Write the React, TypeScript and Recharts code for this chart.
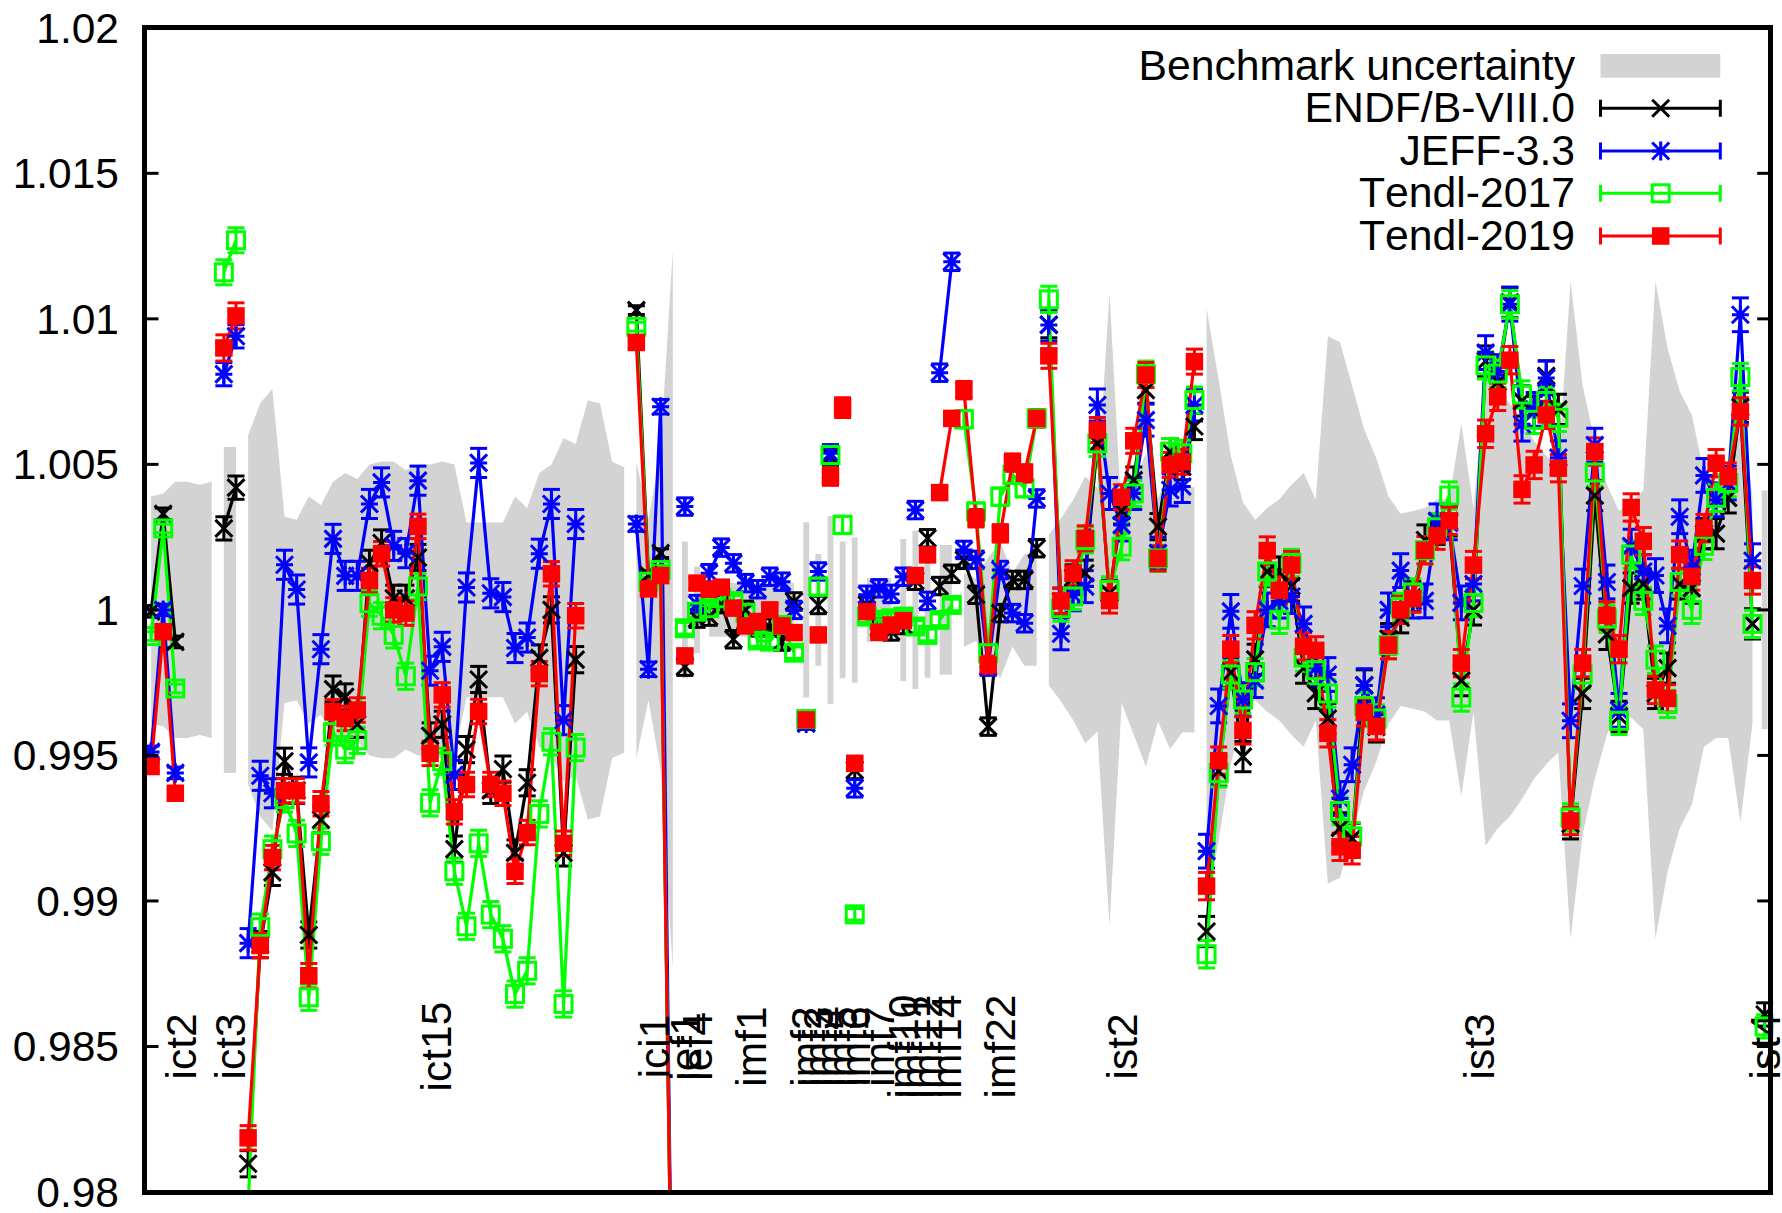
import React from 'react';
import { ComposedChart, Line, Area, ErrorBar, XAxis, YAxis, Legend, ReferenceDot } from 'recharts';

const _ = null;
const SERIES_NAMES = ['ENDF/B-VIII.0', 'JEFF-3.3', 'Tendl-2017', 'Tendl-2019'];
const COLORS = ['#000000', '#0000ff', '#00ff00', '#ff0000'];
const Y_TICKS = [0.98, 0.985, 0.99, 0.995, 1, 1.005, 1.01, 1.015, 1.02];

const ENDF = [
  0.99995, 1.0033, 0.9989, _, _, _, 1.0028, 1.0042,
  0.98097, 0.9885, 0.99098, 0.9948, 0.9938, 0.98883, 0.99279, 0.99728, 0.99701, 0.99607, 1.0016, 1.0023, 1.0004, 1.0004, 1.0018, 0.99567, 0.99607, 0.99178, 0.9952, 0.99761, 0.9938, 0.99453, 0.99165, 0.99406, 0.99835, 1.0, 0.99165, 0.99829, _, _, _, _,
  1.0103, 1.0012, 1.00195, 0.973,
  0.99805, 0.9997,
  0.99977, 1.0002, 0.99899, 1.0, 0.9994, 0.9994, 0.99891, 1.00029,
  0.9961, 1.00017, 1.00527, _, 0.9945,
  1.00017, 0.9994, 0.99926, 0.99948, 1.001, 1.00246, 1.00082, 1.00124,
  1.00172, 1.00052, 0.99599, 0.99989, 1.00103, 1.00103, 1.00212,
  1.0098, 1.0003, 1.0011, 1.00126, 1.00572, 1.00057, 1.0034, 1.00446, 1.00755, 1.00286, 1.00544, 1.00492, 1.0063,
  0.98895, 0.99446, 0.99785, 0.99496, 0.9983, 1.00132, 1.0013, 1.00082, 0.998, 0.99713, 0.99627, 0.99251, 0.99215, 0.99742, 0.99598, 0.99901, 0.99973, 1.00046, 1.0024, 1.00277, 1.00306, 0.99757, 1.0, 1.00855, 1.00783, 1.01057, 1.00718, 1.00682, 1.00804, 1.00689, 0.99265, 0.99713, 1.00393, 0.99916, 0.99634, 1.00075, 1.00089, 0.99713, 0.998, 1.00089, 1.00075, 1.00262, 1.00262, 1.00385, 1.00696, 0.99952,
  0.9861,
];
const JEFF = [
  0.99512, 1.0, 0.9944, _, _, _, 1.0081, 1.0094,
  0.98855, 0.9943, 0.9937, 1.00155, 1.0007, 0.99476, 0.99865, 1.00244, 1.00117, 1.00117, 1.00364, 1.00438, 1.0022, 1.00195, 1.00444, 0.99791, 0.99873, 0.99433, 1.00077, 1.00505, 1.00057, 1.00044, 0.99869, 0.99905, 1.00193, 1.00364, 0.99621, 1.00295, _, _, _, _,
  1.00295, 0.99796, 1.00698, 0.9725,
  1.00355, 1.0002,
  1.00126, 1.00214, 1.0016, 1.00092, 1.00071, 1.00114, 1.00097, 1.0,
  0.9961, 1.00132, 1.00538, _, 0.99387,
  1.00052, 1.00074, 1.00055, 1.00114, 1.00343, 1.00031, 1.00815, 1.01196,
  1.00206, 1.00172, 0.99805, 1.00137, 0.99989, 0.99954, 1.00383,
  1.00979, 0.99918, 1.00052, 1.0008, 1.00704, 1.004, 1.00292, 1.004, 1.00652, 1.00195, 1.00412, 1.00424, 1.00704,
  0.99171, 0.9967, 0.99995, 0.99692, 0.99757, 1.0, 1.0003, 1.00046, 0.99952, 0.998, 0.99778, 0.99352, 0.99468, 0.9974, 0.9964, 1.0, 1.00135, 1.0003, 1.00031, 1.00306, 1.00299, 1.00024, 1.00089, 1.00884, 1.00819, 1.0105, 1.00638, 1.00689, 1.00797, 1.00523, 0.99619, 1.00082, 1.00566, 1.00096, 0.99655, 1.00219, 1.00132, 1.00118, 0.99945, 1.0032, 1.00147, 1.00462, 1.00378, 1.00436, 1.01014, 1.00169,
  _,
];
const TENDL17 = [
  0.9991, 1.0028, 0.9973, _, _, _, 1.0116, 1.0127,
  0.9795, 0.9891, 0.99178, 0.9935, 0.99232, 0.98669, 0.99205, 0.9958, 0.9952, 0.99552, 1.00023, 0.9998, 0.99914, 0.99772, 1.0008, 0.99337, 0.9948, 0.99102, 0.98913, 0.99198, 0.98953, 0.9887, 0.9868, 0.9876, 0.99299, 0.99547, 0.98646, 0.99527, _, _, _, _,
  1.00973, 1.00097, 1.00137, 0.973,
  0.99937, 0.99994,
  1.00006, 1.0004, 1.0003, 0.9999, 0.99895, 0.99891, 0.99948, 0.99853,
  0.99625, 1.0008, 1.00532, 1.00292, 0.98954,
  0.99977, 0.99966, 0.99971, 0.99977, 0.99943, 0.99914, 0.99966, 1.00017,
  1.00655, 1.00338, 0.99851, 1.00389, 1.00464, 1.00418, 1.00658,
  1.01067, 1.00006, 1.00046, 1.0024, 1.00572, 1.00069, 1.00217, 1.004, 1.0081, 1.00177, 1.00544, 1.00538, 1.00721,
  0.98817, 0.99439, 0.99778, 0.99692, 0.99786, 1.00132, 0.99966, 1.00161, 0.99836, 0.99793, 0.99713, 0.99309, 0.99222, 0.9967, 0.99627, 0.99879, 1.0001, 1.0006, 1.00205, 1.00284, 1.00393, 0.99699, 1.00024, 1.0084, 1.00812, 1.0105, 1.0074, 1.00653, 1.00718, 1.0066, 0.99287, 0.99778, 1.00472, 0.9997, 0.99619, 1.0019, 1.00031, 0.99829, 0.99677, 1.00096, 1.0, 1.0022, 1.00385, 1.00436, 1.008, 0.99952,
  0.98569,
];
const TENDL19 = [
  0.99462, 0.99925, 0.9937, _, _, _, 1.009, 1.0101,
  0.98186, 0.98847, 0.99149, 0.99379, 0.99379, 0.98743, 0.99334, 0.9965, 0.99627, 0.99656, 1.00101, 1.00193, 1.0, 0.99989, 1.00287, 0.99507, 0.99708, 0.99306, 0.994, 0.99651, 0.994, 0.9937, 0.99102, 0.99235, 0.99781, 1.00124, 0.99198, 0.9998, _, _, _, _,
  1.00919, 1.00072, 1.00118, 0.973,
  0.99842, 1.00092,
  1.00071, 1.00078, 1.00006, 0.99945, 0.9996, 1.0, 0.99945, 0.99922,
  0.99622, 0.99914, 1.00458, 1.00695, 0.99473,
  0.99994, 0.99923, 0.99948, 0.99963, 1.00118, 1.00189, 1.00403, 1.00658,
  1.00755, 1.00315, 0.99811, 1.00263, 1.00506, 1.00469, 1.00658,
  1.00873, 1.00031, 1.00126, 1.00246, 1.00618, 1.00032, 1.00387, 1.00581, 1.00807, 1.00177, 1.00498, 1.00509, 1.00853,
  0.99051, 0.99482, 0.99865, 0.99586, 0.99947, 1.00204, 1.00067, 1.00154, 0.99875, 0.99861, 0.99576, 0.99186, 0.99174, 0.99648, 0.996, 0.99879, 1.0, 1.00039, 1.00205, 1.00255, 1.00306, 0.99817, 1.00154, 1.00605, 1.00732, 1.00858, 1.00414, 1.00498, 1.0067, 1.00487, 0.99275, 0.99817, 1.00544, 0.99981, 0.99865, 1.00352, 1.00236, 0.99725, 0.99696, 1.0019, 1.00115, 1.00281, 1.00504, 1.00458, 1.00682, 1.00101,
  _,
];
const BENCH_UNC = [
  0.0039, 0.004, 0.0044, 0.0044, 0.0043, 0.0044, 0.0056, 0.0056,
  0.006, 0.0071, 0.0076, 0.0032, 0.0031, 0.0039, 0.0036, 0.0044, 0.0047, 0.0045, 0.005, 0.0051, 0.0051, 0.0048, 0.005, 0.005, 0.0051, 0.005, 0.003, 0.003, 0.003, 0.003, 0.0039, 0.0035, 0.0047, 0.005, 0.0059, 0.0057, 0.0072, 0.0071, 0.0051, 0.0049,
  0.0051, 0.0031, 0.0055, 0.01236,
  0.00235, 0.00149,
  0.00092, 0.00092, 0.00092, 0.00092, 0.00092, 0.00092, 0.00092, 0.00092,
  0.00301, 0.00192, 0.00323, 0.00235, 0.0025,
  0.0011, 0.0011, 0.0011, 0.00244, 0.00272, 0.00233, 0.00223, 0.00223,
  0.00127, 0.00107, 0.0018, 0.00234, 0.00127, 0.00192, 0.00192,
  0.00258, 0.00315, 0.00378, 0.00458, 0.00418, 0.01088, 0.0032, 0.0043, 0.00538, 0.00384, 0.00478, 0.00421, 0.00421,
  0.01036, 0.0079, 0.0053, 0.0037, 0.0031, 0.0035, 0.0038, 0.0043, 0.0047, 0.0038, 0.0094, 0.0092, 0.0077, 0.0062, 0.0052, 0.0039, 0.0033, 0.0034, 0.0035, 0.0038, 0.0038, 0.0064, 0.0035, 0.0081, 0.0075, 0.0071, 0.0065, 0.0058, 0.0053, 0.0049, 0.0113, 0.0077, 0.0058, 0.0043, 0.0034, 0.0037, 0.0041, 0.0113, 0.009, 0.0075, 0.0067, 0.0047, 0.0044, 0.0044, 0.0073, 0.0039,
  0.0041,
];

// benchmark blocks: first index, last index, error of [ENDF, JEFF, T17, T19]
const BLOCKS: [number, number, number[]][] = [
  [0, 5, [0.0002, 0.0002, 0.00015, 0.00015]],
  [6, 7, [0.0004, 0.0004, 0.00043, 0.00045]],
  [8, 39, [0.00045, 0.0005, 0.00045, 0.00042]],
  [40, 43, [0.00015, 0.00025, 0.00015, 0.0002]],
  [44, 44, [0.0003, 0.0003, 0.0002, 0.0002]],
  [45, 45, [0.0003, 0.0003, 0.0002, 0.0002]],
  [46, 53, [0.0003, 0.0003, 0.0002, 0.0002]],
  [54, 54, [0.0002, 0.0002, 0.0001, 0.0001]],
  [55, 55, [0.0003, 0.0003, 0.0003, 0.0002]],
  [56, 56, [0.0003, 0.0003, 0.0003, 0.0003]],
  [57, 57, [0.0003, 0.0003, 0.0003, 0.00034]],
  [58, 58, [0.0003, 0.0003, 0.0002, 0.0002]],
  [59, 61, [0.0003, 0.0003, 0.0002, 0.0002]],
  [62, 62, [0.0003, 0.0003, 0.0002, 0.0002]],
  [63, 63, [0.0003, 0.0003, 0.0002, 0.0002]],
  [64, 64, [0.0003, 0.0003, 0.0002, 0.0002]],
  [65, 66, [0.0003, 0.0003, 0.0002, 0.0002]],
  [67, 73, [0.0003, 0.0003, 0.0003, 0.0003]],
  [74, 86, [0.00045, 0.00055, 0.00045, 0.00043]],
  [87, 132, [0.00052, 0.00058, 0.00047, 0.00047]],
  [133, 133, [0.0004, 0.0004, 0.0004, 0.0004]],
];

const GROUP_LABELS: [string, number][] = [
  ['ict2', 2.5], ['ict3', 6.5], ['ict15', 23.5], ['ici1', 41.5], ['ief1', 44], ['ief4', 45],
  ['imf1', 49.5], ['imf2', 54], ['imf3', 55], ['imf4', 56], ['imf5', 57], ['imf6', 58], ['imf7', 60],
  ['imf10', 62], ['imf11', 63], ['imf12', 64], ['imf14', 65.5], ['imf22', 70],
  ['ist2', 80], ['ist3', 109.5], ['ist4', 133],
];
const LABEL_LEVEL = 0.985;
const Y_MIN = 0.98;
const Y_MAX = 1.02;
const X_MIN = -0.5;
const X_MAX = 133.5;
const FONT = '"Liberation Sans", Arial, sans-serif';
const TEXT_STYLE = { fontKerning: 'none' as const };
const VALUES = [ENDF, JEFF, TENDL17, TENDL19];

const bandData = (a: number, b: number) => {
  const pts: any[] = [];
  if (a === b) {
    const u = BENCH_UNC[a];
    pts.push({ x: a - 0.24, r: [1 - u, 1 + u] }, { x: a + 0.24, r: [1 - u, 1 + u] });
  } else {
    for (let i = a; i <= b; i++) pts.push({ x: i, r: [1 - BENCH_UNC[i], 1 + BENCH_UNC[i]] });
  }
  return pts;
};

const seriesData = (s: number, a: number, b: number, err: number) => {
  const pts: any[] = [];
  for (let i = a; i <= b; i++) {
    const v = VALUES[s][i];
    if (v !== null) pts.push({ x: i, v, e: v < Y_MIN ? undefined : err });
  }
  return pts;
};

const Marker = ({ s, cx, cy }: any) => {
  const h = 8.5;
  const c = COLORS[s];
  if (s === 0) return <path d={`M${cx - h} ${cy - h}L${cx + h} ${cy + h}M${cx - h} ${cy + h}L${cx + h} ${cy - h}`} stroke={c} strokeWidth={3} fill="none" />;
  if (s === 1) return <path d={`M${cx - h} ${cy - h}L${cx + h} ${cy + h}M${cx - h} ${cy + h}L${cx + h} ${cy - h}M${cx} ${cy - h - 1}L${cx} ${cy + h + 1}M${cx - h} ${cy}L${cx + h} ${cy}`} stroke={c} strokeWidth={3} fill="none" />;
  if (s === 2) return <rect x={cx - h} y={cy - h} width={2 * h} height={2 * h} stroke={c} strokeWidth={3} fill="none" />;
  return <rect x={cx - h - 0.25} y={cy - h - 0.25} width={2 * h + 0.5} height={2 * h + 0.5} fill={c} />;
};

const dotFor = (s: number) => (p: any) => {
  if (p.cx == null || p.cy == null) return <g key={p.index} />;
  return <Marker key={p.index} s={s} cx={p.cx} cy={p.cy} />;
};

const LegendBox = () => {
  const W = 782;
  const textX = 1575 - 1000;
  const x1 = 1600.5 - 1000;
  const x2 = 1720.3 - 1000;
  const mid = 1660.7 - 1000;
  const rows = [66, 108.3, 151, 193.3, 236];
  return (
    <svg width={W} height={280} style={{ display: 'block' }}>
      <text x={textX} y={rows[0] + 14} textAnchor="end" fontFamily={FONT} fontSize={42.7} fill="#000" style={TEXT_STYLE}>Benchmark uncertainty</text>
      <rect x={x1} y={54} width={x2 - x1} height={23.7} fill="#d3d3d3" />
      {SERIES_NAMES.map((n, s) => {
        const y = rows[s + 1];
        return (
          <g key={n}>
            <text x={textX} y={y + 14} textAnchor="end" fontFamily={FONT} fontSize={42.7} fill="#000" style={TEXT_STYLE}>{n}</text>
            <path d={`M${x1} ${y}L${x2} ${y}M${x1} ${y - 8.5}L${x1} ${y + 8.5}M${x2} ${y - 8.5}L${x2} ${y + 8.5}`} stroke={COLORS[s]} strokeWidth={3} fill="none" />
            <Marker s={s} cx={mid} cy={y} />
          </g>
        );
      })}
    </svg>
  );
};

const LeftTick = ({ x, y, payload }: any) => (
  <g>
    <line x1={x} x2={x + 13.5} y1={y} y2={y} stroke="#000" strokeWidth={3} />
    <text x={119} y={y} dy="0.35em" textAnchor="end" fontFamily={FONT} fontSize={42.5} fill="#000" style={TEXT_STYLE}>{String(payload.value)}</text>
  </g>
);
const RightTick = ({ x, y }: any) => <line x1={x} x2={x - 13.5} y1={y} y2={y} stroke="#000" strokeWidth={3} />;

const GroupLabel = (name: string) => (p: any) => (
  <text x={p.cx} y={p.cy} dy="0.35em" transform={`rotate(-90 ${p.cx} ${p.cy})`} textAnchor="middle" fontFamily={FONT} fontSize={42.5} fill="#000" style={TEXT_STYLE}>{name}</text>
);

export default function App() {
  return (
    <div style={{ position: 'absolute', left: 0, top: 0, width: 1782, height: 1213, background: '#fff' }}>
      <ComposedChart width={1782} height={1213} margin={{ top: 27.8, right: 0, bottom: 21, left: 0 }}>
        <XAxis dataKey="x" type="number" hide domain={[X_MIN, X_MAX]} allowDataOverflow />
        <YAxis yAxisId="left" orientation="left" width={145} type="number" domain={[Y_MIN, Y_MAX]} allowDataOverflow ticks={Y_TICKS} axisLine={false} tickLine={false} tickSize={0} tickMargin={0} tick={<LeftTick />} interval={0} />
        <YAxis yAxisId="right" orientation="right" width={11.3} type="number" domain={[Y_MIN, Y_MAX]} allowDataOverflow ticks={Y_TICKS} axisLine={false} tickLine={false} tickSize={0} tickMargin={0} tick={<RightTick />} interval={0} />
        <Legend layout="horizontal" verticalAlign="middle" align="center" content={<LegendBox />} wrapperStyle={{ position: 'absolute', left: 1000, top: 0, width: 782, height: 280, margin: 0 }} />
        {BLOCKS.map(([a, b]) => (
          <Area key={`band${a}`} yAxisId="left" data={bandData(a, b)} dataKey="r" name="Benchmark uncertainty" stroke="none" fill="#d3d3d3" fillOpacity={1} dot={false} activeDot={false} isAnimationActive={false} />
        ))}
        {GROUP_LABELS.map(([n, x]) => (
          <ReferenceDot key={n} yAxisId="left" x={x} y={LABEL_LEVEL} ifOverflow="visible" shape={GroupLabel(n)} />
        ))}
        {SERIES_NAMES.map((name, s) =>
          BLOCKS.map(([a, b, errs]) => {
            const d = seriesData(s, a, b, errs[s]);
            if (d.length === 0) return null;
            return (
              <Line key={`${s}-${a}`} yAxisId="left" data={d} dataKey="v" name={name} stroke={COLORS[s]} strokeWidth={3.2} dot={dotFor(s)} activeDot={false} isAnimationActive={false}>
                <ErrorBar dataKey="e" direction="y" width={8.5} stroke={COLORS[s]} strokeWidth={3} isAnimationActive={false} />
              </Line>
            );
          })
        )}
      </ComposedChart>
      <div style={{ position: 'absolute', left: 142.35, top: 25.15, width: 1631, height: 1169.5, boxSizing: 'border-box', borderStyle: 'solid', borderColor: '#000', borderTopWidth: 5, borderLeftWidth: 5, borderRightWidth: 5, borderBottomWidth: 5, pointerEvents: 'none' }} />
    </div>
  );
}
